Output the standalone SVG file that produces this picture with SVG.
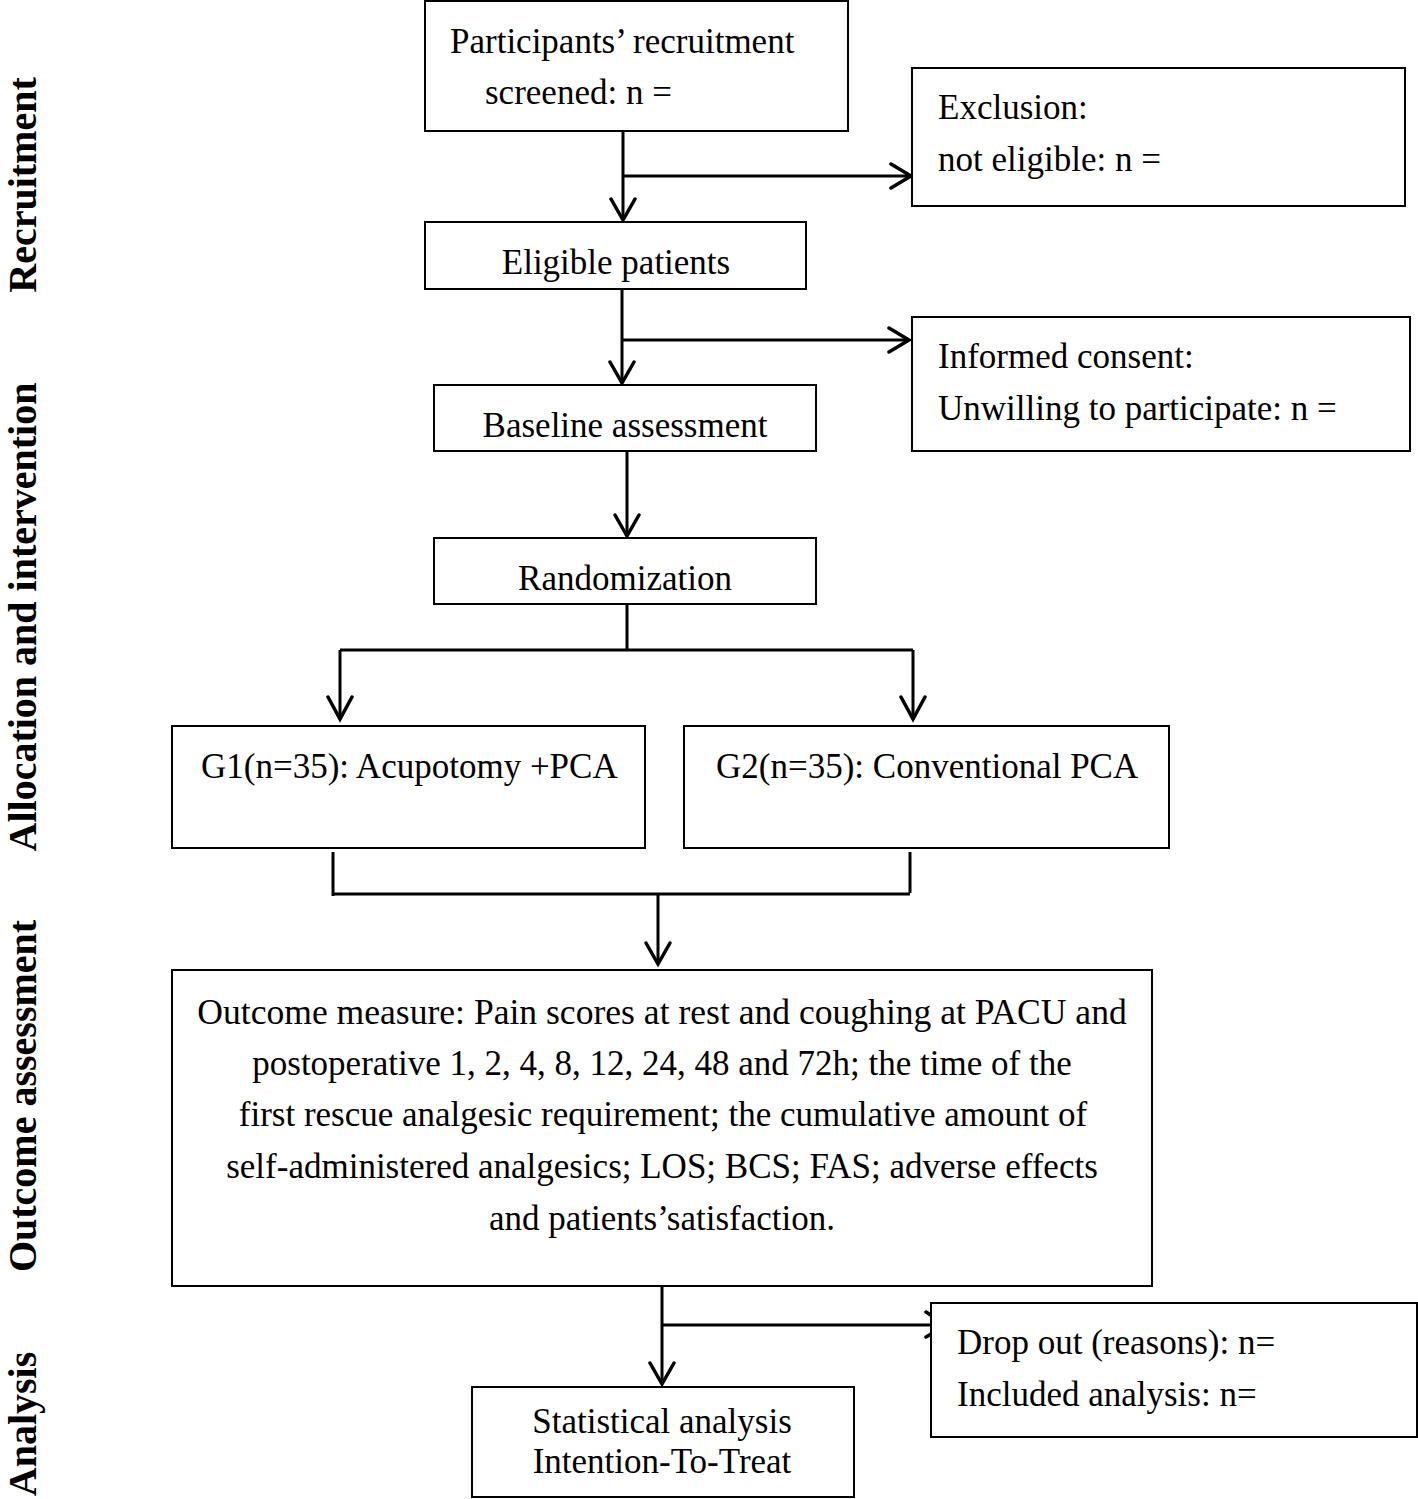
<svg xmlns="http://www.w3.org/2000/svg" width="1418" height="1499" viewBox="0 0 1418 1499">
<style>
.box{fill:#fff;stroke:#000;stroke-width:2}
.t{font-family:"Liberation Serif","Times New Roman",serif;font-size:35px;fill:#000}
.o{font-size:35.6px}
.c{text-anchor:middle}
.side{font-family:"Liberation Serif","Times New Roman",serif;font-size:40px;font-weight:bold;fill:#000;text-anchor:middle}
.ln{fill:none;stroke:#000;stroke-width:3}
.ah{fill:none;stroke:#000;stroke-width:3.5;stroke-linecap:round;stroke-linejoin:miter}
</style>
<rect width="1418" height="1499" fill="#fff"/>
<g id="section-labels">
<text class="side" transform="translate(36,185) rotate(-90)">Recruitment</text>
<text class="side" transform="translate(36,617) rotate(-90)">Allocation and intervention</text>
<text class="side" transform="translate(36,1096) rotate(-90)">Outcome assessment</text>
<text class="side" transform="translate(36,1424) rotate(-90)">Analysis</text>
</g>
<g id="connectors">
<path class="ln" d="M623,131 V219 M623,176 H910"/>
<path class="ah" d="M611,199 L623,220 L635,199 M891,164 L911,176 L891,188"/>
<path class="ln" d="M622,289 V382 M622,340 H908"/>
<path class="ah" d="M610,362 L622,383 L634,362 M889,328 L909,340 L889,352"/>
<path class="ln" d="M627,451 V535"/>
<path class="ah" d="M615,515 L627,536 L639,515"/>
<path class="ln" d="M627,604 V650 M340,650 H913 M340,650 V718 M913,650 V718"/>
<path class="ah" d="M328,697 L340,719 L352,697 M901,697 L913,719 L925,697"/>
<path class="ln" d="M333,852 V896 M910,852 V893 M333,894 H910 M658,893 V963"/>
<path class="ah" d="M646,943 L658,964 L670,943"/>
<path class="ln" d="M662,1286 V1383 M662,1325 H940"/>
<path class="ah" d="M650,1363 L662,1384 L674,1363 M926,1312 L946,1325 L926,1337"/>
</g>
<g id="participants">
<rect class="box" x="425" y="1" width="423" height="130"/>
<text class="t" x="450" y="53">Participants’ recruitment</text>
<text class="t" x="485" y="104">screened: n =</text>
</g>
<g id="exclusion">
<rect class="box" x="912" y="68" width="493" height="138"/>
<text class="t" x="938" y="119">Exclusion:</text>
<text class="t" x="938" y="171">not eligible: n =</text>
</g>
<g id="eligible">
<rect class="box" x="425" y="222" width="381" height="67"/>
<text class="t c" x="616" y="274">Eligible patients</text>
</g>
<g id="consent">
<rect class="box" x="912" y="317" width="498" height="134"/>
<text class="t" x="938" y="368">Informed consent:</text>
<text class="t" x="938" y="420">Unwilling to participate: n =</text>
</g>
<g id="baseline">
<rect class="box" x="434" y="385" width="382" height="66"/>
<text class="t c" x="625" y="437">Baseline assessment</text>
</g>
<g id="randomization">
<rect class="box" x="434" y="538" width="382" height="66"/>
<text class="t c" x="625" y="590">Randomization</text>
</g>
<g id="g1">
<rect class="box" x="172" y="726" width="473" height="122"/>
<text class="t" x="201" y="778">G1(n=35): Acupotomy +PCA</text>
</g>
<g id="g2">
<rect class="box" x="684" y="726" width="485" height="122"/>
<text class="t" x="716" y="778">G2(n=35): Conventional PCA</text>
</g>
<g id="outcome">
<rect class="box" x="172" y="970" width="980" height="316"/>
<text class="t o c" x="662" y="1024">Outcome measure: Pain scores at rest and coughing at PACU and</text>
<text class="t c" x="662" y="1075">postoperative 1, 2, 4, 8, 12, 24, 48 and 72h; the time of the</text>
<text class="t c" x="663" y="1126">first rescue analgesic requirement; the cumulative amount of</text>
<text class="t c" x="662" y="1178">self-administered analgesics; LOS; BCS; FAS; adverse effects</text>
<text class="t c" x="662" y="1230">and patients’satisfaction.</text>
</g>
<g id="dropout">
<rect class="box" x="931" y="1303" width="486" height="134"/>
<text class="t" x="957" y="1354">Drop out (reasons): n=</text>
<text class="t" x="957" y="1406">Included analysis: n=</text>
</g>
<g id="statistical">
<rect class="box" x="472" y="1387" width="382" height="110"/>
<text class="t c" x="662" y="1433">Statistical analysis</text>
<text class="t c" x="662" y="1473">Intention-To-Treat</text>
</g>
</svg>
